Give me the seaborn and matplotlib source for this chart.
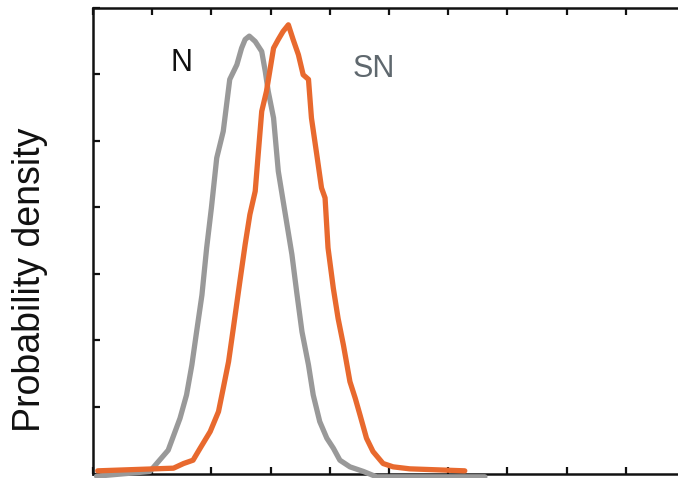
import matplotlib
matplotlib.use("Agg")
import matplotlib.pyplot as plt
import seaborn as sns
import pandas as pd

# Series (x in axis units, y = probability density)
n_x = [0.06, 0.96, 1.27, 1.47, 1.58, 1.67, 1.75, 1.84, 1.92, 2.00, 2.09, 2.20, 2.31,
       2.43, 2.51, 2.57, 2.64, 2.74, 2.85, 2.91, 2.96, 3.05, 3.13, 3.24, 3.36, 3.44,
       3.53, 3.64, 3.72, 3.83, 3.95, 4.06, 4.17, 4.34, 4.57, 4.79, 6.62]
n_y = [-0.04, 0.03, 0.35, 0.83, 1.18, 1.63, 2.13, 2.68, 3.39, 3.99, 4.74, 5.14, 5.92,
       6.14, 6.39, 6.52, 6.57, 6.49, 6.34, 6.04, 5.74, 5.34, 4.54, 3.94, 3.29, 2.73,
       2.13, 1.63, 1.18, 0.78, 0.53, 0.38, 0.20, 0.10, 0.03, -0.05, -0.05]

sn_x = [0.08, 1.36, 1.53, 1.69, 1.81, 1.98, 2.12, 2.20, 2.29, 2.37, 2.48, 2.57, 2.65,
        2.74, 2.79, 2.85, 2.93, 3.05, 3.13, 3.21, 3.30, 3.38, 3.47, 3.55, 3.64, 3.69,
        3.78, 3.86, 3.92, 3.97, 4.06, 4.14, 4.23, 4.34, 4.43, 4.51, 4.62, 4.73, 4.90,
        5.07, 5.35, 6.28]
sn_y = [0.04, 0.08, 0.15, 0.20, 0.38, 0.63, 0.93, 1.28, 1.68, 2.18, 2.88, 3.44, 3.89,
        4.24, 4.79, 5.44, 5.74, 6.39, 6.52, 6.64, 6.74, 6.52, 6.29, 5.99, 5.92, 5.34,
        4.79, 4.29, 4.14, 3.39, 2.78, 2.33, 1.93, 1.38, 1.13, 0.88, 0.53, 0.33, 0.15,
        0.10, 0.07, 0.04]

labels = ["N", "SN"]
y_label = "Probability density"
x_ticks = list(range(0, 11))
y_ticks = list(range(0, 8))

sns.set_style("white")
plt.rcParams['font.family'] = ['Liberation Sans', 'DejaVu Sans']

fig = plt.figure(figsize=(6.78, 4.78), dpi=100)
ax = fig.add_axes([93 / 678, 1 - 473.5 / 478, 592 / 678, 466 / 478])

df_n = pd.DataFrame({"x": n_x, "y": n_y})
df_sn = pd.DataFrame({"x": sn_x, "y": sn_y})

sns.lineplot(data=df_n, x="x", y="y", ax=ax, color="#999999", linewidth=3.8,
             sort=False, estimator=None, clip_on=False, zorder=3)
sns.lineplot(data=df_sn, x="x", y="y", ax=ax, color="#E8692E", linewidth=3.8,
             sort=False, estimator=None, clip_on=False, zorder=4)

ax.set_xlim(x_ticks[0], x_ticks[-1])
ax.set_ylim(y_ticks[0], y_ticks[-1])
ax.set_xticks(x_ticks)
ax.set_yticks(y_ticks)
ax.set_xticklabels([])
ax.set_yticklabels([])
ax.tick_params(direction="in", length=5, width=1.6, color="#111111",
               top=True, bottom=True, left=True, right=False)
ax.set_xlabel("")
ax.set_ylabel("")

for s in ["left", "bottom", "top"]:
    ax.spines[s].set_visible(True)
    ax.spines[s].set_linewidth(1.8)
    ax.spines[s].set_color("#111111")
ax.spines["right"].set_visible(False)

fig.text(30 / 678, 1 - 280 / 478, y_label, rotation=90, fontsize=27,
         color="#111111", ha="center", va="center")

ax.text(1.50, 6.17, labels[0], fontsize=22, color="#111111", ha="center", va="center")
ax.text(4.75, 6.08, labels[1], fontsize=22, color="#5F686E", ha="center", va="center")

fig.savefig("out.png", dpi=100)
